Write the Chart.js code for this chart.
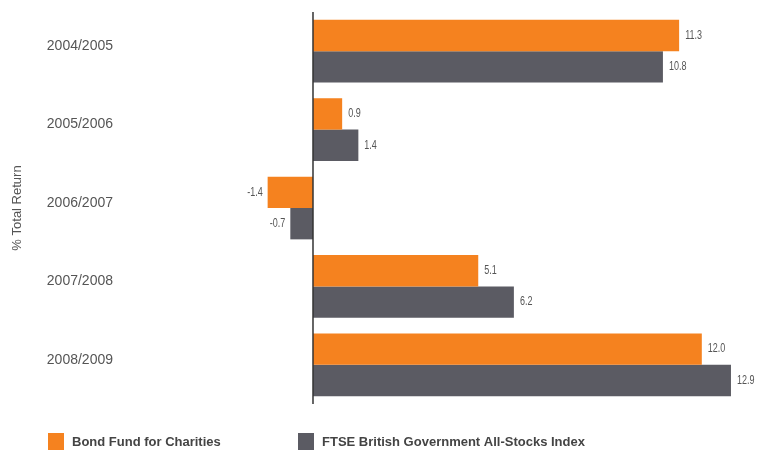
<!DOCTYPE html>
<html>
<head>
<meta charset="utf-8">
<script src="https://cdn.jsdelivr.net/npm/chart.js@4"></script>
<style>
  html, body { margin: 0; padding: 0; background: #fff; }
  #wrap { width: 757px; height: 451px; }
</style>
</head>
<body>
<div id="wrap"><canvas id="canvas" width="757" height="451"></canvas></div>
<script>
var years = ["2004/2005", "2005/2006", "2006/2007", "2007/2008", "2008/2009"];
var bondFund = [11.3, 0.9, -1.4, 5.1, 12.0];
var ftseIndex = [10.8, 1.4, -0.7, 6.2, 12.9];
var seriesNames = ["Bond Fund for Charities", "FTSE British Government All-Stocks Index"];
var seriesColors = ["#f5821f", "#5b5b63"];

var textFont = "'Liberation Sans', Arial, sans-serif";

// vertical line at zero + value labels next to each bar end
const barLabels = {
  id: "barLabels",
  afterDatasetsDraw(chart) {
    const ctx = chart.ctx;
    const area = chart.chartArea;
    const x0 = chart.scales.x.getPixelForValue(0);
    ctx.save();
    ctx.strokeStyle = "#333";
    ctx.lineWidth = 1.5;
    ctx.beginPath();
    ctx.moveTo(x0, area.top);
    ctx.lineTo(x0, area.bottom);
    ctx.stroke();

    ctx.font = "12px " + textFont;
    ctx.fillStyle = "#555";
    ctx.textBaseline = "middle";
    const squeeze = 0.75; // narrow the digits a bit
    chart.data.datasets.forEach((ds, i) => {
      chart.getDatasetMeta(i).data.forEach((bar, j) => {
        const v = ds.data[j];
        const tx = v < 0 ? bar.x - 5 : bar.x + 6;
        ctx.save();
        ctx.translate(tx, bar.y);
        ctx.scale(squeeze, 1);
        ctx.textAlign = v < 0 ? "right" : "left";
        ctx.fillText(v.toFixed(1), 0, 0);
        ctx.restore();
      });
    });
    ctx.restore();
  },
};

// legend along the bottom, two items at fixed offsets
const bottomLegend = {
  id: "bottomLegend",
  afterDraw(chart) {
    const ctx = chart.ctx;
    const starts = [48, 298];
    const top = 433;
    ctx.save();
    ctx.font = "bold 13px " + textFont;
    ctx.textBaseline = "middle";
    ctx.textAlign = "left";
    chart.data.datasets.forEach((ds, i) => {
      ctx.fillStyle = ds.backgroundColor;
      ctx.fillRect(starts[i], top, 16, 17);
      ctx.fillStyle = "#444";
      ctx.fillText(ds.label, starts[i] + 24, top + 9);
    });
    ctx.restore();
  },
};

const config = {
  type: "bar",
  data: {
    labels: years,
    datasets: [
      {
        label: seriesNames[0],
        data: bondFund,
        backgroundColor: seriesColors[0],
        categoryPercentage: 0.8,
        barPercentage: 1.0,
      },
      {
        label: seriesNames[1],
        data: ftseIndex,
        backgroundColor: seriesColors[1],
        categoryPercentage: 0.8,
        barPercentage: 1.0,
      },
    ],
  },
  options: {
    indexAxis: "y",
    responsive: false,
    animation: false,
    layout: { padding: { left: 4, right: 12, top: 12, bottom: 47 } },
    plugins: {
      legend: { display: false },
      tooltip: { enabled: false },
    },
    scales: {
      x: {
        display: false,
        min: -5.648,
        max: 13.333,
      },
      y: {
        grid: { display: false, drawTicks: false },
        border: { display: false },
        afterFit(scale) {
          scale.width = 126;
          // don't let the tick labels push the plot area down
          scale.paddingTop = 0;
          scale.paddingBottom = 0;
        },
        ticks: {
          padding: 17,
          labelOffset: -5,
          color: "#555",
          font: { family: textFont, size: 14 },
        },
        title: {
          display: true,
          text: "% Total Return",
          color: "#555",
          padding: { top: 6, bottom: 0 },
          font: { family: textFont, size: 13 },
        },
      },
    },
  },
  plugins: [barLabels, bottomLegend],
};

const myChart = new Chart(document.getElementById("canvas"), config);
</script>
</body>
</html>
